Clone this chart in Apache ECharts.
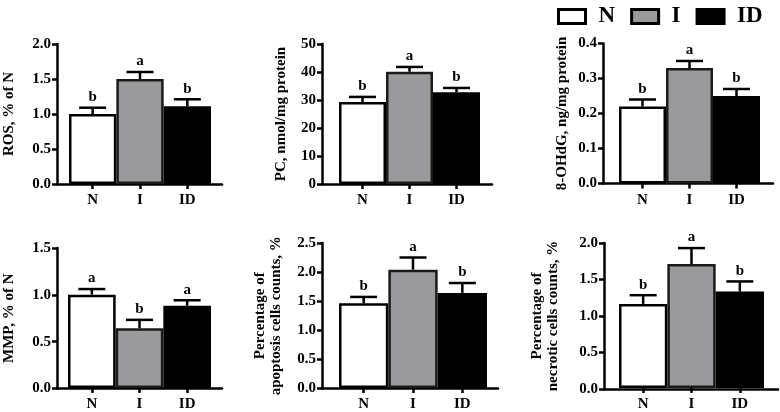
<!DOCTYPE html>
<html><head><meta charset="utf-8">
<script src="https://cdn.jsdelivr.net/npm/echarts@6/dist/echarts.min.js"></script>
<style>html,body{margin:0;padding:0;background:#fff}#c{width:780px;height:412px}</style>
</head><body><div id="c"></div>
<script>
// ---- data ----
const categories = ['N', 'I', 'ID'];

const rosMean = [1.00, 1.50, 1.11];
const rosErr = [0.09, 0.10, 0.10];
const rosLetters = ['b', 'a', 'b'];

const pcMean = [29.3, 40.1, 32.8];
const pcErr = [1.8, 1.7, 1.5];
const pcLetters = ['b', 'a', 'b'];

const ohdgMean = [0.22, 0.33, 0.25];
const ohdgErr = [0.02, 0.02, 0.02];
const ohdgLetters = ['b', 'a', 'b'];

const mmpMean = [1.00, 0.64, 0.88];
const mmpErr = [0.06, 0.09, 0.06];
const mmpLetters = ['a', 'b', 'a'];

const apopMean = [1.46, 2.04, 1.64];
const apopErr = [0.11, 0.21, 0.17];
const apopLetters = ['b', 'a', 'b'];

const necroMean = [1.16, 1.71, 1.33];
const necroErr = [0.12, 0.22, 0.14];
const necroLetters = ['b', 'a', 'b'];

const yNames = ['ROS, % of N', 'PC, nmol/mg protein', '8-OHdG, ng/mg protein',
  'MMP, % of N', 'Percentage of\napoptosis cells counts, %', 'Percentage of\nnecrotic cells counts, %'];
const yMax = [2.0, 50, 0.4, 1.5, 2.5, 2.0];
const yInterval = [0.5, 10, 0.1, 0.5, 0.5, 0.5];
const yDecimals = [1, 0, 1, 1, 1, 1];

// ---- layout / style ----
const FONT = '"Liberation Serif", "Times New Roman", serif';
const W = 780;
const layouts = [
  {ax: 57, bl: 69, br: 211, ar: 222, top: 44, bottom: 184, gap: 40},
  {ax: 322, bl: 339, br: 480, ar: 492, top: 44, bottom: 184, gap: 33},
  {ax: 603, bl: 619, br: 760, ar: 773, top: 43.5, bottom: 183.5, gap: 33},
  {ax: 56, bl: 68, br: 211, ar: 222, top: 248, bottom: 388.5, gap: 40},
  {ax: 322, bl: 339, br: 487, ar: 498, top: 243, bottom: 388.5, gap: 38},
  {ax: 604, bl: 619, br: 764, ar: 778, top: 243, bottom: 389, gap: 43}
];
const means = [rosMean, pcMean, ohdgMean, mmpMean, apopMean, necroMean];
const errs = [rosErr, pcErr, ohdgErr, mmpErr, apopErr, necroErr];
const letters = [rosLetters, pcLetters, ohdgLetters, mmpLetters, apopLetters, necroLetters];

const barStyles = [
  {color: '#ffffff', borderColor: '#000000', borderWidth: 2.5},
  {color: '#9a9a9c', borderColor: '#1a1a1a', borderWidth: 2.5},
  {color: '#000000', borderColor: '#000000', borderWidth: 2.5}
];

const grid = [], xAxis = [], yAxis = [], series = [];
layouts.forEach((L, p) => {
  const H = 412;
  grid.push({left: L.ax, right: W - L.ar, top: L.top, bottom: H - L.bottom, containLabel: false});
  grid.push({left: L.bl, right: W - L.br, top: L.top, bottom: H - L.bottom, containLabel: false});
  const go = 2 * p, gi = 2 * p + 1;
  xAxis.push({
    gridIndex: go, type: 'value', min: 0, max: 1, position: 'bottom',
    axisLine: {show: true, onZero: false, lineStyle: {color: '#000', width: 2.5}},
    axisTick: {show: false}, axisLabel: {show: false}, splitLine: {show: false}
  });
  xAxis.push({
    gridIndex: gi, type: 'category', data: categories, position: 'bottom',
    axisLine: {show: false},
    axisTick: {show: true, alignWithLabel: true, length: 5, lineStyle: {color: '#000', width: 2.5}},
    axisLabel: {show: true, margin: 9, color: '#000', fontFamily: FONT, fontWeight: 'bold', fontSize: 15}
  });
  const dec = yDecimals[p];
  yAxis.push({
    gridIndex: go, type: 'value', min: 0, max: yMax[p], interval: yInterval[p],
    name: yNames[p], nameLocation: 'middle', nameRotate: 90, nameGap: L.gap,
    nameTextStyle: {color: '#000', fontFamily: FONT, fontWeight: 'bold', fontSize: 15, lineHeight: 16},
    axisLine: {show: true, onZero: false, lineStyle: {color: '#000', width: 2.5}},
    axisTick: {show: true, length: 5, lineStyle: {color: '#000', width: 2.5}},
    axisLabel: {show: true, margin: 6, color: '#000', fontFamily: FONT, fontWeight: 'bold', fontSize: 15,
      formatter: v => v.toFixed(dec)},
    splitLine: {show: false}
  });
  yAxis.push({
    gridIndex: gi, type: 'value', min: 0, max: yMax[p], interval: yInterval[p], show: false
  });
  const m = means[p], e = errs[p], lt = letters[p];
  categories.forEach((c, k) => {
    series.push({
      name: c, type: 'bar', xAxisIndex: 2 * p + 1, yAxisIndex: 2 * p + 1,
      data: categories.map((_, j) => j === k ? m[j] : '-'),
      barWidth: '100%', barGap: '-100%',
      itemStyle: barStyles[k], silent: true, z: 2
    });
  });
  series.push({
    type: 'custom', xAxisIndex: 2 * p + 1, yAxisIndex: 2 * p + 1, z: 5, silent: true,
    data: categories.map((_, j) => [j, m[j], e[j]]),
    encode: {x: 0, y: 1},
    renderItem: function (params, api) {
      const i = api.value(0), mv = api.value(1), ev = api.value(2);
      const b = api.coord([i, mv]);
      const t = api.coord([i, mv + ev]);
      const cap = 13.5;
      return {
        type: 'group', children: [
          {type: 'line', shape: {x1: b[0], y1: b[1], x2: t[0], y2: t[1]}, style: {stroke: '#000', lineWidth: 2.5}},
          {type: 'line', shape: {x1: t[0] - cap, y1: t[1], x2: t[0] + cap, y2: t[1]}, style: {stroke: '#000', lineWidth: 2.5}},
          {type: 'text', x: t[0], y: t[1] - 3, style: {text: lt[params.dataIndex], font: 'bold 15px ' + FONT, fill: '#000', align: 'center', verticalAlign: 'bottom'}}
        ]
      };
    }
  });
});

const chart = echarts.init(document.getElementById('c'), null, {renderer: 'canvas'});
chart.setOption({
  backgroundColor: '#fff',
  animation: false,
  legend: {
    data: categories, left: 552, top: 0, selectedMode: false,
    itemWidth: 27, itemHeight: 14, itemGap: 15, icon: 'rect',
    itemStyle: {borderWidth: 3, borderColor: '#000'},
    textStyle: {color: '#000', fontFamily: FONT, fontWeight: 'bold', fontSize: 23, padding: [0, 0, 0, 8]}
  },
  grid: grid, xAxis: xAxis, yAxis: yAxis, series: series
});
</script>
</body></html>
